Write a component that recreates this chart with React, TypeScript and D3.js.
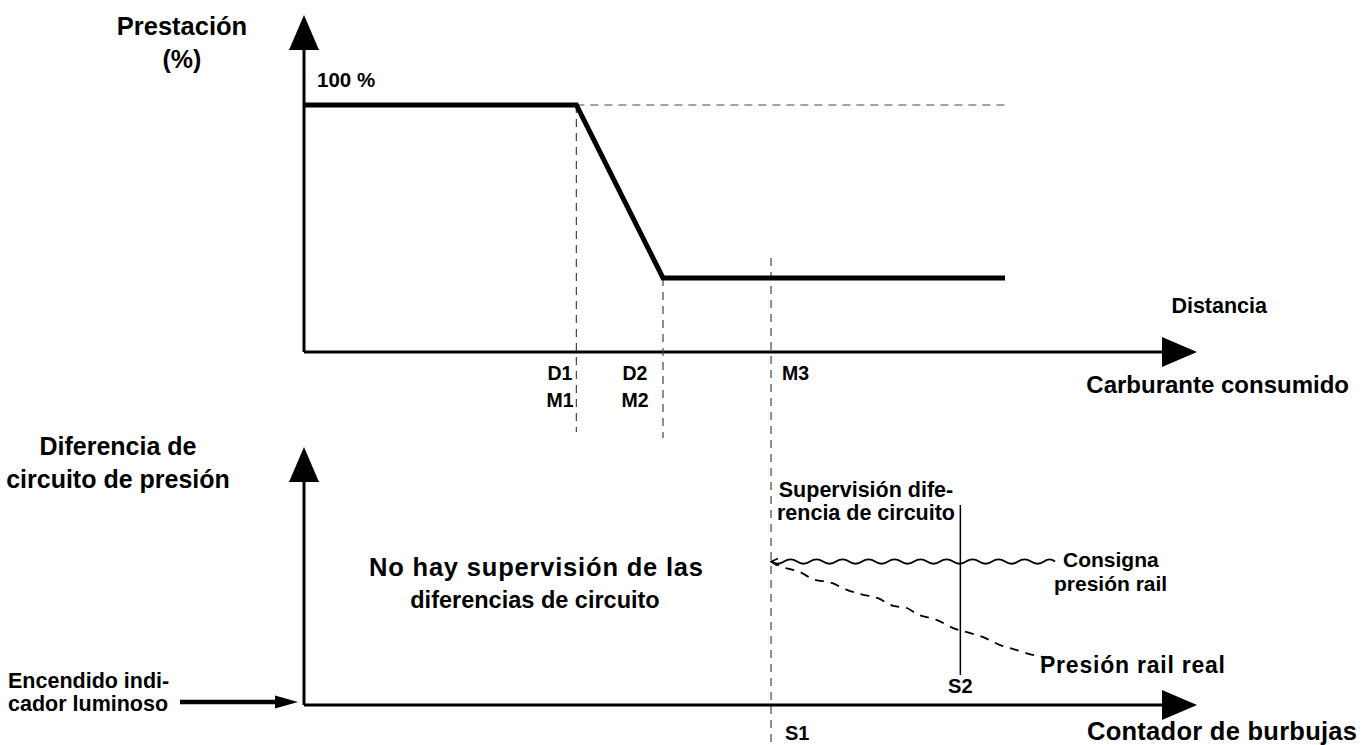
import React from 'react';
import * as d3 from 'd3';

// ---------- data ----------
const perfDistance = [0, 30.5, 40.2, 78.5];
const perfValue = [100, 100, 30, 30];
const markerPos = [30.5, 40.2, 52.3];
const markerTop = [100, 30, 35];
const markerLabels = [['D1', 'M1'], ['D2', 'M2'], ['M3']];

const setpointX = [52.3, 84.1];
const setpointY = [55.6, 55.6];
const realX = [52.3, 53.6, 55.5, 57.0, 59.1, 60.8, 62.3, 64.2, 66.0, 67.5, 68.6, 70.9, 72.7, 74.6, 76.0, 77.9, 79.8, 81.6, 82.8];
const realY = [55.8, 53.5, 51.6, 48.8, 47.3, 44.6, 43.0, 41.5, 38.4, 37.6, 35.3, 32.9, 29.8, 27.9, 26.4, 23.3, 21.3, 19.4, 18.6];
const s2Pos = 73.5;

const FONT = '"Liberation Sans", Arial, Helvetica, sans-serif';

export default function App() {
  const W = 1365, H = 745;
  const x = d3.scaleLinear().domain([0, 100]).range([304, 1197]);
  const yTop = d3.scaleLinear().domain([0, 100]).range([352, 105]);
  const yBot = d3.scaleLinear().domain([0, 100]).range([705, 447]);

  const perfLine = d3.line<number>().x((d, i) => x(perfDistance[i])).y((d, i) => yTop(perfValue[i]));
  const realLine = d3.line<number>().x((d, i) => x(realX[i])).y((d, i) => yBot(realY[i])).curve(d3.curveMonotoneX);

  // wavy styling for setpoint line
  const wx0 = x(setpointX[0]), wx1 = x(setpointX[1]), wy = yBot(setpointY[0]);
  const period = 26, amp = 2.2;
  let wave = `M${wx0},${wy}`;
  let cx = wx0, k = 0;
  while (cx < wx1 - 0.1) {
    const nx = Math.min(cx + period / 2, wx1);
    const dir = k % 2 === 0 ? 1 : -1;
    wave += ` Q${(cx + nx) / 2},${wy + dir * amp * 2} ${nx},${wy}`;
    cx = nx; k++;
  }

  const axisTopY = yTop(0);
  const axisBotY = yBot(0);
  const ax = x(0);
  const tipX = x(100);

  const arrowUp = (cx: number, tip: number) => `M${cx},${tip} L${cx - 15},${tip + 35} L${cx + 15},${tip + 35} Z`;
  const arrowRight = (tx: number, cy: number) => `M${tx},${cy} L${tx - 35},${cy - 15} L${tx - 35},${cy + 15} Z`;

  const txt = (s: string, px: number, py: number, size: number, anchor: string = 'start', len?: number) => (
    <text x={px} y={py} fontSize={size} fontWeight="bold" fontFamily={FONT} textAnchor={anchor} fill="#000"
      {...(len ? { textLength: len, lengthAdjust: 'spacing' } : {})}>{s}</text>
  );

  return (
    <svg width={W} height={H} style={{ position: 'absolute', left: 0, top: 0, background: '#fff' }}>
      {/* ---------- top chart ---------- */}
      <line x1={ax} y1={50} x2={ax} y2={axisTopY} stroke="#000" strokeWidth={3} />
      <path d={arrowUp(ax, 15)} fill="#000" />
      <line x1={ax} y1={axisTopY} x2={tipX - 34} y2={axisTopY} stroke="#000" strokeWidth={3} />
      <path d={arrowRight(tipX, axisTopY)} fill="#000" />

      <line x1={x(perfDistance[1])} y1={yTop(100)} x2={x(perfDistance[3])} y2={yTop(100)} stroke="#444" strokeWidth={1} strokeDasharray="8,6" />
      <line x1={x(markerPos[0])} y1={yTop(markerTop[0])} x2={x(markerPos[0])} y2={432} stroke="#444" strokeWidth={1.2} strokeDasharray="8,6" />
      <line x1={x(markerPos[1])} y1={yTop(markerTop[1])} x2={x(markerPos[1])} y2={438} stroke="#444" strokeWidth={1.2} strokeDasharray="8,6" />
      <line x1={x(markerPos[2])} y1={258} x2={x(markerPos[2])} y2={745} stroke="#444" strokeWidth={1.2} strokeDasharray="8,6" />

      <path d={perfLine(perfValue) || ''} fill="none" stroke="#000" strokeWidth={5} strokeLinejoin="miter" />

      {txt('Prestación', 182, 35, 25.5, 'middle')}
      {txt('(%)', 182, 68, 25, 'middle')}
      {txt('100 %', 317, 87, 20.5)}
      {txt('Distancia', 1267, 313, 21.5, 'end')}
      {txt(markerLabels[0][0], 560, 380, 19.5, 'middle')}
      {txt(markerLabels[0][1], 560, 407, 19.5, 'middle')}
      {txt(markerLabels[1][0], 635, 380, 19.5, 'middle')}
      {txt(markerLabels[1][1], 635, 407, 19.5, 'middle')}
      {txt(markerLabels[2][0], 782, 380, 19.5)}
      {txt('Carburante consumido', 1349, 393, 24, 'end')}

      {/* ---------- bottom chart ---------- */}
      <line x1={ax} y1={482} x2={ax} y2={axisBotY} stroke="#000" strokeWidth={3} />
      <path d={arrowUp(ax, 447)} fill="#000" />
      <line x1={ax} y1={axisBotY} x2={tipX - 34} y2={axisBotY} stroke="#000" strokeWidth={3} />
      <path d={arrowRight(tipX, axisBotY)} fill="#000" />

      {txt('Diferencia de', 118, 455, 25, 'middle')}
      {txt('circuito de presión', 118, 488, 25, 'middle')}
      {txt('No hay supervisión de las', 369, 576, 25.5, 'start', 334)}
      {txt('diferencias de circuito', 535, 608, 23.5, 'middle')}

      <line x1={x(s2Pos)} y1={505} x2={x(s2Pos)} y2={675} stroke="#000" strokeWidth={1.5} />
      <path d={wave} fill="none" stroke="#000" strokeWidth={1.8} />
      <path d={`M${wx0 + 7},${wy - 3} L${wx0},${wy} L${wx0 + 6},${wy + 4}`} fill="none" stroke="#000" strokeWidth={1.5} />
      <path d={realLine(realX) || ''} fill="none" stroke="#000" strokeWidth={1.8} strokeDasharray="9,7" />

      {txt('Supervisión dife-', 866, 497, 21.5, 'middle')}
      {txt('rencia de circuito', 866, 520, 21.5, 'middle')}
      {txt('Consigna', 1063, 567, 21)}
      {txt('presión rail', 1054, 591, 21)}
      {txt('Presión rail real', 1040, 673, 23, 'start', 185)}
      {txt('S2', x(s2Pos), 693, 20, 'middle')}
      {txt('S1', 785, 740, 20)}
      {txt('Contador de burbujas', 1087, 740, 25.5, 'start', 270)}

      {txt('Encendido indi-', 8, 688, 21.5)}
      {txt('cador luminoso', 8, 711, 21.5)}
      <line x1={180} y1={702} x2={278} y2={702} stroke="#000" strokeWidth={4.5} />
      <path d="M298,702 L275,695.5 L275,708.5 Z" fill="#000" />
    </svg>
  );
}
